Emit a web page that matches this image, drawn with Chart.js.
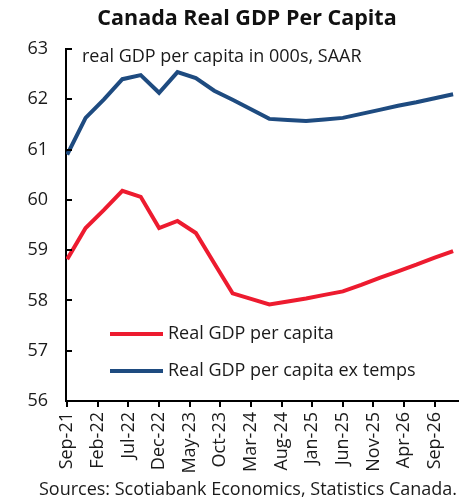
<!DOCTYPE html>
<html>
<head>
<meta charset="utf-8">
<script src="https://cdn.jsdelivr.net/npm/chart.js@4/dist/chart.umd.min.js"></script>
<style>
  html, body { margin: 0; padding: 0; background: #fff; }
  #wrap { width: 468px; height: 501px; position: relative; }
</style>
</head>
<body>
<div id="wrap"><canvas id="c"></canvas></div>
<script>
// Quarterly observations and forecasts, x in months since Sep-21
const quarterLabels = ['Sep-21','Dec-21','Mar-22','Jun-22','Sep-22','Dec-22','Mar-23','Jun-23',
  'Sep-23','Dec-23','Mar-24','Jun-24','Sep-24','Dec-24','Mar-25','Jun-25','Sep-25','Dec-25',
  'Mar-26','Jun-26','Sep-26','Dec-26'];
const quarterMonths = [0,3,6,9,12,15,18,21,24,27,30,33,36,39,42,45,48,51,54,57,60,63];

// Real GDP per capita, thousands, SAAR
const gdpPerCapita = [58.82,59.44,59.80,60.18,60.06,59.44,59.58,59.34,58.74,58.14,58.03,57.92,
  57.98,58.04,58.11,58.18,58.31,58.45,58.58,58.71,58.85,58.98];
// Real GDP per capita excluding temporary residents
const gdpPerCapitaExTemps = [60.90,61.63,62.00,62.40,62.48,62.13,62.54,62.42,62.17,61.99,61.80,61.61,
  61.59,61.57,61.60,61.63,61.71,61.79,61.87,61.94,62.02,62.10];

const tickMonths = [0,5,10,15,20,25,30,35,40,45,50,55,60];
const tickLabels = ['Sep-21','Feb-22','Jul-22','Dec-22','May-23','Oct-23','Mar-24','Aug-24',
  'Jan-25','Jun-25','Nov-25','Apr-26','Sep-26'];
const yTicks = [56,57,58,59,60,61,62,63];

const titleText = 'Canada Real GDP Per Capita';
const noteText = 'real GDP per capita in 000s, SAAR';
const sourceText = 'Sources: Scotiabank Economics, Statistics Canada.';

const RED = '#ED1B2F';
const BLUE = '#1E4B80';
const INK = '#1a1a1a';
const FONT = '"Open Sans", sans-serif';
const TEXT_SIZE = 18;

Chart.defaults.font.family = FONT;
Chart.defaults.color = INK;

const toPoints = vals => vals.map((v, i) => ({ x: quarterMonths[i], y: v }));

// Title, note, in-plot legend, inner y tick marks and source line
const overlay = {
  id: 'overlay',
  afterDraw(chart) {
    const { ctx, chartArea, scales: { y } } = chart;
    ctx.save();
    ctx.strokeStyle = '#000';
    ctx.lineWidth = 2;
    yTicks.forEach(v => {
      const py = Math.round(y.getPixelForValue(v));
      ctx.beginPath();
      ctx.moveTo(chartArea.left, py);
      ctx.lineTo(chartArea.left + 6, py);
      ctx.stroke();
    });

    ctx.fillStyle = '#111';
    ctx.textBaseline = 'middle';
    ctx.textAlign = 'center';
    ctx.font = 'bold 21.5px ' + FONT;
    ctx.fillText(titleText, 247, 19);

    ctx.fillStyle = INK;
    ctx.font = TEXT_SIZE + 'px ' + FONT;
    ctx.textAlign = 'left';
    ctx.fillText(noteText, 82, 57);

    const rows = [334, 371];
    chart.data.datasets.forEach((ds, i) => {
      const ly = rows[i];
      ctx.strokeStyle = ds.borderColor;
      ctx.lineWidth = 4;
      ctx.beginPath();
      ctx.moveTo(110, ly);
      ctx.lineTo(163, ly);
      ctx.stroke();
      ctx.fillStyle = INK;
      ctx.fillText(ds.label, 168, ly);
    });

    ctx.textAlign = 'center';
    ctx.fillText(sourceText, 248, 490);
    ctx.restore();
  }
};

new Chart(document.getElementById('c'), {
  type: 'line',
  data: {
    datasets: [
      { label: 'Real GDP per capita', data: toPoints(gdpPerCapita),
        borderColor: RED, backgroundColor: RED, borderWidth: 4, pointRadius: 0, tension: 0 },
      { label: 'Real GDP per capita ex temps', data: toPoints(gdpPerCapitaExTemps),
        borderColor: BLUE, backgroundColor: BLUE, borderWidth: 4, pointRadius: 0, tension: 0 }
    ]
  },
  options: {
    responsive: true,
    maintainAspectRatio: false,
    animation: false,
    devicePixelRatio: 1,
    layout: { padding: { top: 49, right: 10, bottom: 20, left: 0 } },
    plugins: {
      legend: { display: false },
      title: { display: false },
      tooltip: { enabled: false }
    },
    scales: {
      x: {
        type: 'linear',
        min: -0.2,
        max: 63.8,
        afterBuildTicks: scale => { scale.ticks = tickMonths.map(v => ({ value: v })); },
        afterFit: scale => { scale.height = 80; },
        ticks: {
          autoSkip: false,
          minRotation: 90,
          maxRotation: 90,
          padding: 5,
          font: { size: TEXT_SIZE },
          color: INK,
          callback: (value, index) => tickLabels[index]
        },
        grid: { display: true, drawOnChartArea: false, drawTicks: true, tickLength: 6,
                color: '#000', lineWidth: 2 },
        border: { display: true, color: '#000', width: 2 }
      },
      y: {
        min: 56,
        max: 63,
        afterBuildTicks: scale => { scale.ticks = yTicks.map(v => ({ value: v })); },
        afterFit: scale => { scale.width = 66; },
        ticks: { padding: 18, font: { size: TEXT_SIZE }, color: INK },
        grid: { display: true, drawOnChartArea: false, drawTicks: false },
        border: { display: true, color: '#000', width: 2 }
      }
    }
  },
  plugins: [overlay]
});
</script>
</body>
</html>
